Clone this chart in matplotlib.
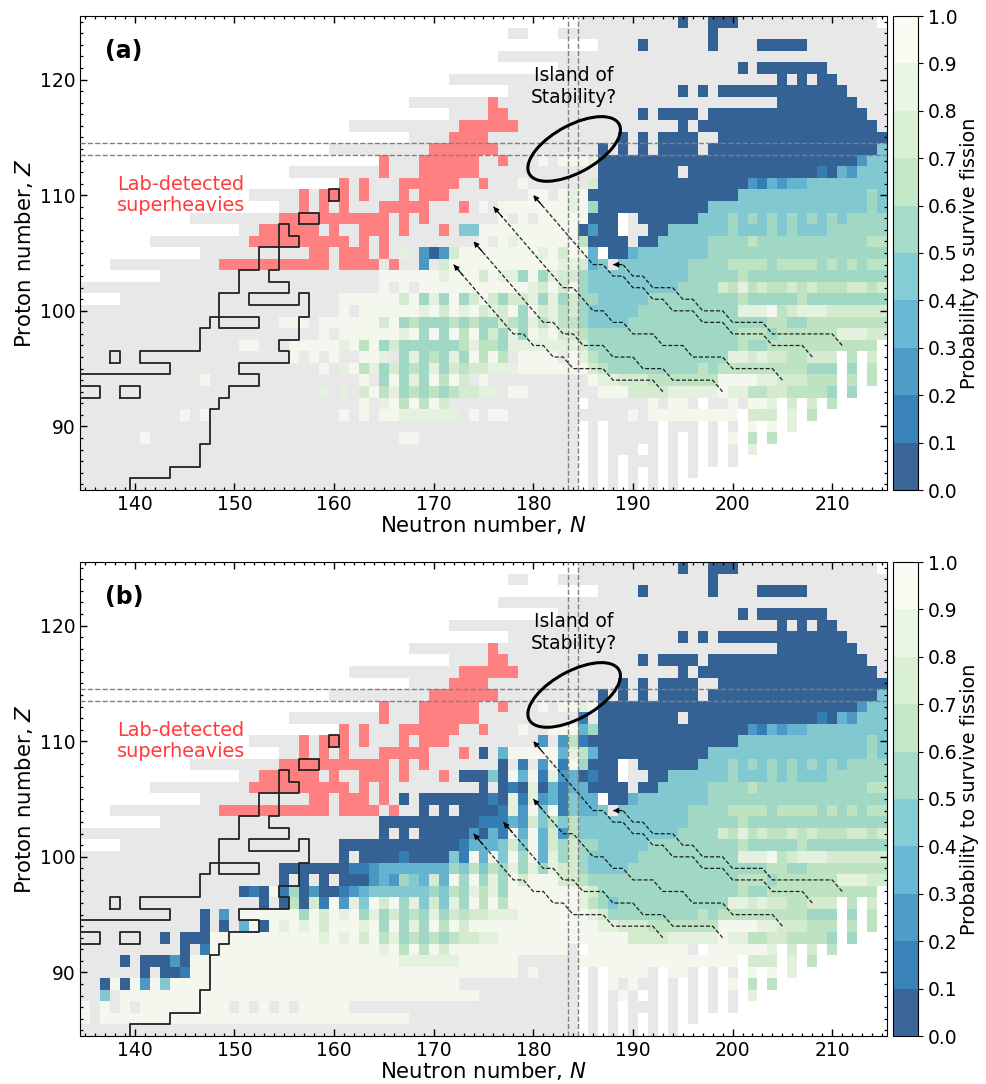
import numpy as np
import matplotlib
matplotlib.use("Agg")
import matplotlib.pyplot as plt
from matplotlib.colors import ListedColormap
from matplotlib.patches import Ellipse
from matplotlib.ticker import MultipleLocator

# every token is 3 digits of N + one code, the code holds until the next token
# . empty, - not fissioning data (grey), r lab detected, 0-9 survival probability bin
rows_top = [
    "135. 185- 1950 196- 1980 201- 215.",  # Z=125
    "135. 178- 180. 183- 1980 199-",
    "135. 187- 1910 192- 1980 199- 2030 208-",
    "135. 177-",
    "135. 183- 2010 202- 2030 210-",
    "135. 172- 2050 206- 2070 208- 2090 211-",  # Z=120
    "135. 178- 1950 196- 1970 198- 1990 212-",
    "135. 168- 176r 177- 2050 213-",
    "135. 172- 176r 178- 1910 192- 1930 197- 1980 214-",
    "135. 162- 173r 179- 1950 196- 1970 215-",
    "135. 168- 172r 176- 1890 190- 1910 192- 1930 197- 1990",  # Z=115
    "135. 160- 170r 177- 1870 188- 1890 190- 1910 192- 1930 197- 1980 2154",
]

rows_a = [
    "135. 165r 166- 169r 175- 177r 178- 1819 182- 1839 1868 1870 2132 2144",  # Z=113
    "135. 156- 165r 166- 169r 175- 1870 195- 1960 2091 2100 2113 2122 2134",
    "135. 161r 162- 163r 164- 167r 173- 175r 176- 1799 180- 1867 1870 2022 2031 2043 2052 2063 2084",
    "135. 152- 157r 158- 159r 162- 163r 164- 167r 168- 169r 172- 1809 182- 1839 1848 1859 1860 2014 2145 2154",
    "135. 155- 157r 158- 159r 160- 161r 162- 165r 170- 173r 174- 1759 176- 1779 1848 1859 1865 1870 1984 2145 2154",
    "135. 146- 155r 166- 167r 168- 169r 170- 1779 178- 1799 180- 1819 1860 189. 190- 1910 1974 2005 2014 2025 2034 2045 2054 2065 2074 2085 2094 2105 2114 2125",
    "135. 151- 153r 159- 160r 161- 163r 166- 167r 168- 171r 172- 1734 1759 1850 1862 1870 189. 190- 1920 1944 2005 2014 2045 2054 2065 2074 2105",
    "135. 142- 152r 162- 163r 164- 165r 166- 1759 176- 1779 1788 1799 1856 1860 190- 1910 1934 1985 2026 2035 2146",
    "135. 147- 158r 160- 161r 164- 165r 166- 1678 168- 1692 1700 1712 1727 1739 1818 1829 1837 1849 1863 187. 1880 1903 1914 1985",
    "135. 138- 149r 160- 161r 165- 166r 167- 1692 170- 1717 1729 1838 1857 1863 1874 188- 1894 1965 2006 2045 2056 2095 2106 2115 2126 2135 2146",
    "135. 143- 1659 1718 1729 1757 1769 1778 1795 1809 1815 1828 1837 1855 1864 1965 2016 2025",
    "135- 1659 166- 1679 168- 1699 1808 1817 1829 1837 1849 1855 1864 1955 1997 2006 2018 2026 2037 2046 2067 2076 2087 2096 2127 2146 2157",
    "135. 139- 1619 1677 1689 1695 1708 1715 1729 1735 1747 1759 1767 1775 1787 1808 1815 1828 1835 1847 1855 1874 1925 2016 2025 2076 2085",
    "135- 1619 162- 1639 1698 1709 1717 1729 1738 1749 1757 1768 1777 1789 1795 1809 1817 1828 1836 1847 1855 1864 1915 2018 2049 2056 2067 2078 2107",
    "135- 1559 158- 1599 1657 1669 1675 1686 1695 1726 1735 1746 1755 1777 1786 1795 1808 1816 1828 1836 1855 1864 1905 2046 2065 2086",
    "135- 1599 160- 1619 1678 1689 1695 1709 1715 1729 1736 1749 1755 1767 1775 1788 1795 1809 1818 1829 1837 1856 1865 2016 2045 2056 2118 2147",
    "135- 1519 153- 1569 1618 1629 1636 1649 1655 1667 1675 1736 1748 1756 1775 1788 1857 1865 2016 2025 2046 215.",
    "135- 1569 157- 1589 159- 1609 161- 1639 1658 166- 1675 1688 1695 1706 1715 1728 1735 1749 1756 1769 1776 178- 1799 183- 1849 1858 1866 1875 2008 2027 2038 2047 2066 2087 211. 2126 213. 2147 215.",
    "135- 1599 160- 1618 1629 1636 1648 1655 1667 1675 1686 1695 1708 1715 1727 1736 1747 1768 1799 1867 1876 1885 1976 1985 1996 2085 211. 2125 213. 2146 215.",
    "135- 1479 148- 1639 164- 1655 1669 1675 1688 1695 1709 1716 1729 1737 174- 1759 176- 1869 1878 1897 1926 1999 2038 2057 2086 211. 2126 213. 2146 215.",
    "135- 1598 160- 1618 162- 1637 1649 1656 1668 1675 1686 1695 1706 1715 1726 1737 1758 177- 1789 180- 1879 1907 1948 1999 2008 2026 2047 2066 2105 211. 2125 213.",
    "135- 1639 164- 1658 1669 1676 1689 1696 1709 1717 172- 185. 186- 1929 193- 1949 196- 197. 198- 2009 201- 2029 2048 205. 2067 207. 2087 209. 2106 211.",
    "135- 1459 146- 1479 148- 1619 162- 1639 164- 1659 1678 173- 1749 175- 1769 178- 1909 191- 1929 201. 2027 205. 2068 207. 2086 209.",
    "135- 185. 186- 187. 188- 193. 194- 197. 198- 199. 200- 201. 2029 203. 2049 205. 2068 207.",
    "135- 1419 142- 1679 169- 185. 186- 187. 188- 193. 194- 195. 196- 197. 198- 199. 2009 201. 2026 203. 2046 205.",
    "135- 185. 186- 187. 188- 191. 192- 193. 194- 195. 196- 197. 198- 199. 200- 201. 2028 203.",
    "135- 185. 186- 187. 188- 189. 190- 193. 194- 195. 196- 197. 198- 199. 200- 201.",
    "135- 185. 186- 187. 188- 189. 190- 191. 192- 193. 194- 195. 196- 197.",
    "135- 185. 186- 187. 188- 189. 190- 191. 192- 193. 194- 195.",  # Z=85
]

rows_b = [
    "135. 165r 166- 169r 175- 177r 178- 1819 182- 1839 1858 1869 1870 2132 2144",  # Z=113
    "135. 156- 165r 166- 169r 175- 1851 186- 1870 195- 1960 2091 2100 2113 2122 2134",
    "135. 161r 162- 163r 164- 167r 173- 175r 176- 1799 180- 1829 1853 1865 1870 2022 2031 2043 2052 2063 2084",
    "135. 152- 157r 158- 159r 162- 163r 164- 167r 168- 169r 172- 1812 182- 1832 1846 1851 1860 2014 2145 2154",
    "135. 155- 157r 158- 159r 160- 161r 162- 165r 170- 173r 174- 1750 176- 1773 1789 1833 1848 1856 1863 1870 1984 2145 2154",
    "135. 146- 155r 166- 167r 168- 169r 170- 1770 178- 1791 180- 1812 1829 1831 1849 1855 1860 189. 190- 1910 1974 2005 2014 2025 2034 2045 2054 2065 2074 2085 2094 2105 2114 2125",
    "135. 151- 153r 159- 160r 161- 163r 166- 167r 168- 171r 172- 1730 1764 1770 1789 1793 1809 1811 1828 1832 1843 1850 1861 1870 189. 190- 1920 1944 2005 2014 2045 2054 2065 2074 2105",
    "135. 142- 152r 162- 163r 164- 165r 166- 1750 176- 1770 1781 1790 1808 1810 1823 1831 1843 1860 190- 1910 1934 1985 2026 2035 2146",
    "135. 147- 158r 160- 161r 164- 165r 166- 1670 168- 1690 1761 1770 1788 1791 1808 1812 1823 1831 1844 1853 187. 1880 1903 1914 1985",
    "135. 138- 149r 160- 161r 165- 166r 167- 1690 170- 1710 172- 1730 1771 1788 1792 1809 1814 1829 1831 1844 1853 1874 188- 1894 1965 2006 2045 2056 2095 2106 2115 2126 2135 2146",
    "135. 143- 1650 1751 1783 1792 1807 1814 1826 1834 1846 1854 1965 2016 2025",
    "135- 1650 166- 1670 168- 1690 1742 1750 1763 1771 1789 1793 1809 1813 1827 1832 1846 1854 1955 1997 2006 2018 2026 2037 2046 2067 2076 2087 2096 2127 2146 2157",
    "135. 139- 1610 1731 1743 1774 1787 1794 1809 1813 1827 1835 1847 1855 1874 1925 2016 2025 2076 2085",
    "135- 1610 162- 1630 1671 1680 1724 1731 1749 1753 1769 1774 1789 1795 1809 1813 1828 1835 1847 1855 1864 1915 2018 2049 2056 2067 2078 2107",
    "135- 1550 1621 1642 1653 1725 1734 1746 1754 1766 1775 1788 1795 1808 1815 1828 1837 1855 1864 1905 2046 2065 2086",
    "135- 1550 156- 1570 158- 1590 160- 1610 1642 1653 1662 1675 1684 1693 1707 1713 1729 1735 1749 1755 1768 1775 1789 1797 1809 1837 1856 1865 2016 2045 2056 2118 2147",
    "135- 1510 1521 1530 1549 1551 1565 1570 1582 1590 1611 1622 1633 1644 1705 1714 1726 1735 1748 1756 1768 1775 1789 1858 1867 1875 2016 2025 2046 215.",
    "135- 1530 154- 1550 1566 1570 1587 1591 1609 1612 1628 1634 1649 1657 1669 1675 1688 1694 1707 1714 1728 1735 1749 1756 1769 1776 1789 1858 1866 1875 1884 1895 2008 2027 2038 2047 2066 2087 211. 2126 213. 2147 215.",
    "135- 1470 148- 1492 150- 1519 1575 1589 1597 1609 1618 1629 1635 1648 1655 1667 1675 1686 1695 1708 1715 1727 1736 1747 1768 1799 1868 1877 1885 1976 1985 1996 2085 211. 2125 213. 2146 215.",
    "135- 1470 148- 1490 150- 1513 1529 1530 1549 1558 1569 1578 1589 1597 1609 1638 1649 1655 1669 1675 1688 1695 1709 1716 1729 1737 1749 1878 1897 1926 1999 2038 2057 2086 211. 2126 213. 2146 215.",
    "135- 1430 144- 1450 1489 1598 1609 1618 1629 1637 1649 1656 1668 1675 1686 1695 1706 1715 1726 1737 1758 1779 1907 1948 1999 2008 2026 2047 2066 2105 211. 2125 213.",
    "135- 1450 146- 1471 1489 1658 1669 1676 1689 1696 1709 1717 1729 184- 185. 1869 196- 197. 1989 2048 205. 2067 207. 2087 209. 2106 211.",
    "135- 1390 140- 1410 1442 1450 1469 1678 1739 179- 1859 201. 2027 205. 2068 207. 2086 209.",
    "135- 1410 142- 1430 1451 1469 179- 1809 181- 185. 186- 187. 1889 192- 193. 1949 196- 197. 198- 199. 200- 201. 2029 203. 2049 205. 2068 207.",
    "135- 1370 1389 1390 1409 1412 1429 1434 1449 173- 185. 186- 187. 1889 189- 1909 191- 193. 194- 195. 196- 197. 198- 199. 2009 201. 2026 203. 2046 205.",
    "135- 1374 138- 1399 175- 185. 186- 187. 188- 1899 190- 191. 192- 193. 194- 195. 196- 197. 198- 199. 200- 201. 2028 203.",
    "1359 136- 1379 138- 1399 140- 1419 150- 1519 152- 1539 154- 1559 156- 1579 162- 185. 186- 187. 188- 189. 190- 193. 194- 195. 196- 197. 198- 199. 200- 201.",
    "1359 136- 1379 168- 185. 186- 187. 188- 189. 190- 191. 192- 193. 194- 195. 196- 197.",
    "135- 185. 186- 187. 188- 189. 190- 191. 192- 193. 194- 195.",  # Z=85
]

# outline of the known nuclei (cell edges)
outline_N = [139.5, 139.5, 143.5, 143.5, 146.5, 146.5, 147.5, 147.5, 148.5, 148.5, 149.5, 149.5, 152.5, 152.5, 150.5, 150.5,
             155.5, 155.5, 154.5, 154.5, 156.5, 156.5, 157.5, 157.5, 156.5, 156.5, 151.5, 151.5, 155.5, 155.5, 153.5, 153.5,
             154.5, 154.5, 155.5, 155.5, 156.5, 156.5, 152.5, 152.5, 150.5, 150.5, 148.5, 148.5, 152.5, 152.5, 147.5, 147.5,
             146.5, 146.5, 140.5, 140.5, 143.5, 143.5, 134.5]
outline_Z = [84.5, 85.5, 85.5, 86.5, 86.5, 88.5, 88.5, 91.5, 91.5, 92.5, 92.5, 93.5, 93.5, 94.5, 94.5, 95.5,
             95.5, 96.5, 96.5, 97.5, 97.5, 99.5, 99.5, 101.5, 101.5, 100.5, 100.5, 101.5, 101.5, 102.5, 102.5, 103.5,
             103.5, 107.5, 107.5, 106.5, 106.5, 105.5, 105.5, 103.5, 103.5, 101.5, 101.5, 98.5, 98.5, 99.5, 99.5, 98.5,
             98.5, 96.5, 96.5, 95.5, 95.5, 94.5, 94.5]
boxes = [(137.5, 138.5, 95.5, 96.5), (138.5, 140.5, 92.5, 93.5), (134.5, 136.5, 92.5, 93.5),
         (159.5, 160.5, 109.5, 110.5), (156.5, 158.5, 107.5, 108.5)]

chain1_N = [211, 210, 204, 203, 200, 199, 197, 196, 195, 194, 192, 191, 190, 189, 188]
chain1_Z = [97, 98, 98, 99, 99, 100, 100, 101, 101, 102, 102, 103, 103, 104, 104]
chain2_N = [208, 207, 204, 203, 200, 199, 197, 196, 194, 193, 192, 191, 190, 189, 188, 187, 186, 180]
chain2_Z = [96, 97, 97, 98, 98, 99, 99, 100, 100, 101, 101, 102, 102, 103, 103, 104, 104, 110]
chain3_N = [205, 204, 200, 199, 196, 195, 193, 192, 190, 189, 188, 187, 186, 184, 183]
chain3_Z = [94, 95, 95, 96, 96, 97, 97, 98, 98, 99, 99, 100, 100, 102, 102]
chain4_N = [199, 198, 194, 193, 191, 190, 188, 187, 185, 184, 183, 182, 181]
chain4_Z = [93, 94, 94, 95, 95, 96, 96, 97, 97, 98, 98, 99, 99]
chain5_N = [193, 192, 188, 187, 184, 183, 182, 181, 180, 179, 178]
chain5_Z = [93, 94, 94, 95, 95, 96, 96, 97, 97, 98, 98]
# where chains 3, 4, 5 end in each panel
tips_a = [(176, 109), (174, 106), (172, 104)]
tips_b = [(180, 105), (177, 103), (174, 102)]

N_values = np.arange(135, 216)
Z_values = np.arange(125, 84, -1)


def parse_rows(rows):
    # turn the run lists into three grids, top row first
    prob = np.full((len(rows), len(N_values)), np.nan)
    grey = np.full(prob.shape, np.nan)
    red = np.full(prob.shape, np.nan)
    for i, row in enumerate(rows):
        tokens = row.split()
        for k, tok in enumerate(tokens):
            start = int(tok[:3]) - 135
            stop = int(tokens[k + 1][:3]) - 135 if k + 1 < len(tokens) else len(N_values)
            code = tok[3]
            if code == "r":
                red[i, start:stop] = 1
            elif code != ".":
                # grey base also sits under the semi transparent probability cells
                grey[i, start:stop] = 1
                if code != "-":
                    prob[i, start:stop] = (int(code) + 0.5) / 10
    return prob, grey, red


def draw_chain(ax, xs, ys):
    ax.plot(xs, ys, color="k", lw=0.9, ls=(0, (3.2, 1.6)), alpha=0.85, zorder=5)
    tip = (xs[-1], ys[-1])
    back = (tip[0] + 0.9 * np.sign(xs[-2] - xs[-1]), tip[1] + 0.9 * np.sign(ys[-2] - ys[-1]))
    ax.annotate("", xy=tip, xytext=back, zorder=6,
                arrowprops=dict(arrowstyle="-|>", color="k", lw=0.8, mutation_scale=8, shrinkA=0, shrinkB=0))


def draw_panel(ax, cax, rows, tips, name):
    prob, grey, red = parse_rows(rows)
    ax.pcolormesh(N_values, Z_values, grey, cmap=ListedColormap(["#e8e8e8"]), shading="nearest")
    ax.pcolormesh(N_values, Z_values, red, cmap=ListedColormap(["#ff8080"]), shading="nearest")
    mesh = ax.pcolormesh(N_values, Z_values, prob, cmap=plt.get_cmap("GnBu_r", 10), vmin=0, vmax=1,
                         alpha=0.8, shading="nearest")

    ax.plot(outline_N, outline_Z, color="#222222", lw=1.3, zorder=4)
    for x0, x1, y0, y1 in boxes:
        ax.plot([x0, x1, x1, x0, x0], [y0, y0, y1, y1, y0], color="#222222", lw=1.3, zorder=4)

    for y in [113.5, 114.5]:
        ax.axhline(y, color="gray", ls="--", lw=1, zorder=3)
    for x in [183.5, 184.5]:
        ax.axvline(x, color="gray", ls="--", lw=1, zorder=3)

    draw_chain(ax, chain1_N, chain1_Z)
    draw_chain(ax, chain2_N, chain2_Z)
    draw_chain(ax, chain3_N + [tips[0][0]], chain3_Z + [tips[0][1]])
    draw_chain(ax, chain4_N + [tips[1][0]], chain4_Z + [tips[1][1]])
    draw_chain(ax, chain5_N + [tips[2][0]], chain5_Z + [tips[2][1]])

    ax.add_patch(Ellipse((184.1, 114), 10.0, 4.2, angle=24, fill=False, ec="k", lw=2.2, zorder=6))
    ax.text(184.1, 119.4, "Island of\nStability?", ha="center", va="center", fontsize=13.4, linespacing=1.2, zorder=7)
    ax.text(144.6, 110, "Lab-detected\nsuperheavies", ha="center", va="center", color="#ff3b3b", fontsize=13.9, linespacing=1.15)
    ax.text(137.0, 122.5, name, ha="left", va="center", fontsize=17, fontweight="bold")

    ax.set_xlim(134.5, 215.5)
    ax.set_ylim(84.5, 125.5)
    ax.xaxis.set_major_locator(MultipleLocator(10))
    ax.xaxis.set_minor_locator(MultipleLocator(1))
    ax.yaxis.set_major_locator(MultipleLocator(10))
    ax.yaxis.set_minor_locator(MultipleLocator(1))
    ax.tick_params(which="both", direction="in", top=True, right=True, labelsize=13.5)
    ax.tick_params(which="major", length=5, width=1)
    ax.tick_params(which="minor", length=2.5, width=0.9)
    ax.set_xlabel("Neutron number, $N$", fontsize=15.3, labelpad=0)
    ax.set_ylabel("Proton number, $Z$", fontsize=15.3, labelpad=3)

    cbar = plt.colorbar(mesh, cax=cax)
    cbar.set_ticks(np.arange(0, 1.01, 0.1))
    cbar.ax.tick_params(labelsize=13.5, length=3.5)
    cbar.set_label("Probability to survive fission", fontsize=13.9, labelpad=2)


W, H = 987, 1084
fig = plt.figure(figsize=(W / 100, H / 100), dpi=100)
ax1 = fig.add_axes([80 / W, 1 - 490 / H, 807 / W, 474 / H])
ax2 = fig.add_axes([80 / W, 1 - 1036 / H, 807 / W, 474 / H])
cax1 = fig.add_axes([893 / W, 1 - 490 / H, 25 / W, 474 / H])
cax2 = fig.add_axes([893 / W, 1 - 1036 / H, 25 / W, 474 / H])

draw_panel(ax1, cax1, rows_top + rows_a, tips_a, "(a)")
draw_panel(ax2, cax2, rows_top + rows_b, tips_b, "(b)")

plt.savefig("out.png", dpi=100)
